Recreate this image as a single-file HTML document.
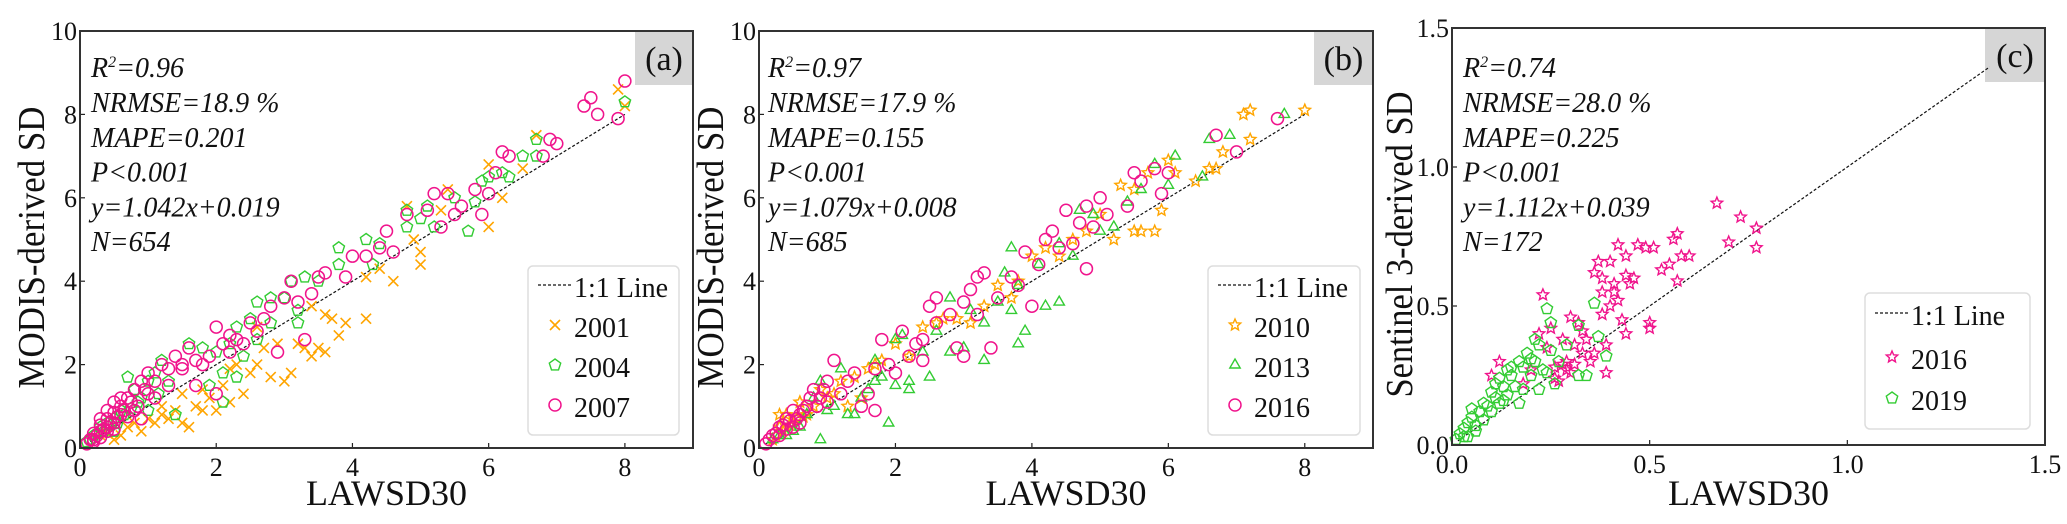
<!DOCTYPE html>
<html><head><meta charset="utf-8"><style>
html,body{margin:0;padding:0;background:#fff;}
svg, svg text{display:block;font-family:"Liberation Serif","DejaVu Serif","Times New Roman",serif;}
</style></head><body>
<svg id="fig" width="2067" height="524" viewBox="0 0 2067 524" xmlns="http://www.w3.org/2000/svg" font-family="Liberation Serif, DejaVu Serif, serif"></svg>
<script>
// ---------- data ----------
const a2001 = [[0.5,0.2],[0.7,0.5],[0.9,0.4],[1.1,0.6],[1.2,0.8],[1.4,0.9],[1.5,0.6],[1.6,0.5],[1.5,1.3],[1.7,1.0],[1.8,0.9],[1.9,1.2],[2.0,0.9],[2.1,1.5],[2.2,1.9],[2.3,2.0],[2.4,1.3],[2.5,1.8],[2.6,2.0],[2.7,2.4],[2.8,1.7],[3.0,1.6],[3.1,1.8],[3.2,2.5],[3.3,2.4],[3.4,2.2],[3.5,2.4],[3.6,2.3],[3.7,3.1],[3.6,3.2],[3.9,3.0],[3.8,2.7],[4.2,3.1],[3.4,3.4],[4.2,4.1],[4.4,4.3],[4.6,4.0],[4.8,5.8],[4.9,5.0],[5.0,4.7],[5.0,4.4],[5.4,6.2],[5.3,5.7],[6.0,5.3],[6.0,6.8],[6.2,6.0],[6.5,6.7],[6.7,7.5],[7.9,8.6],[8.0,8.2],[0.3,0.3],[0.4,0.35],[2.2,1.1],[2.9,2.5],[1.3,0.7],[2.6,2.9],[0.6,0.3],[0.8,0.6],[1.0,0.7],[1.2,1.0],[1.8,1.4]];
const a2004 = [[0.1,0.15],[0.2,0.3],[0.3,0.5],[0.5,0.7],[0.6,0.9],[0.7,1.7],[0.8,1.4],[0.9,1.2],[1.0,1.6],[1.1,1.8],[1.2,2.1],[1.3,1.6],[1.4,0.8],[1.6,2.5],[1.8,2.4],[1.9,1.5],[2.0,2.3],[2.1,1.8],[2.1,1.1],[2.2,2.5],[2.3,1.7],[2.3,2.9],[2.4,2.2],[2.5,3.1],[2.6,2.6],[2.6,3.5],[2.8,3.6],[2.8,3.0],[3.0,3.6],[3.1,4.0],[3.2,3.0],[3.2,3.3],[3.3,4.1],[3.5,4.0],[3.8,4.4],[3.8,4.8],[4.2,5.0],[4.3,4.4],[4.4,4.9],[4.8,5.3],[4.8,5.7],[5.0,5.5],[5.1,5.8],[5.2,5.3],[5.5,6.0],[5.7,5.2],[5.8,5.9],[5.9,6.4],[6.0,6.5],[6.2,6.6],[6.3,6.5],[6.5,7.0],[6.7,7.4],[6.7,7.0],[8.0,8.3],[1.0,0.9],[0.5,0.4],[0.15,0.2],[0.25,0.35],[0.35,0.4],[0.45,0.55],[0.55,0.6],[0.65,0.8],[0.75,0.95],[0.85,1.1],[1.15,1.3],[0.4,0.6]];
const a2007 = [[0.1,0.1],[0.2,0.2],[0.3,0.4],[0.3,0.7],[0.4,0.5],[0.4,0.9],[0.5,0.6],[0.5,1.1],[0.6,0.8],[0.6,1.0],[0.7,1.2],[0.8,0.9],[0.8,1.4],[0.9,1.6],[0.9,0.7],[1.0,1.3],[1.0,1.8],[1.1,1.6],[1.2,2.0],[1.3,1.5],[1.4,2.2],[1.5,1.9],[1.6,2.4],[1.7,1.5],[1.8,2.0],[1.9,2.2],[2.0,2.9],[2.0,1.3],[2.1,2.5],[2.2,2.7],[2.4,2.5],[2.5,3.0],[2.6,2.8],[2.7,3.1],[2.8,3.4],[2.9,2.3],[3.0,3.6],[3.1,4.0],[3.2,3.5],[3.3,2.6],[3.4,3.7],[3.5,4.1],[3.6,4.2],[3.9,4.1],[4.0,4.6],[4.2,4.6],[4.4,4.8],[4.5,5.2],[4.6,4.7],[4.8,5.6],[5.1,5.7],[5.2,6.1],[5.3,5.3],[5.4,6.1],[5.5,5.6],[5.6,5.8],[5.8,6.2],[5.9,5.6],[6.0,6.1],[6.1,6.6],[6.2,7.1],[6.3,7.0],[6.8,7.0],[6.9,7.4],[7.0,7.3],[7.4,8.2],[7.5,8.4],[7.6,8.0],[7.9,7.9],[8.0,8.8],[0.15,0.2],[0.2,0.35],[0.25,0.3],[0.3,0.55],[0.35,0.45],[0.4,0.7],[0.45,0.6],[0.5,0.85],[0.55,0.75],[0.6,1.2],[0.65,0.9],[0.7,0.75],[0.75,1.1],[0.85,1.0],[0.95,1.4],[0.3,0.25],[0.2,0.15],[0.4,0.4],[0.5,0.45],[1.1,1.2],[1.3,1.9],[1.5,2.0],[1.7,2.1],[2.3,2.6],[2.2,2.3]];
const b2010 = [[0.2,0.2],[0.3,0.5],[0.4,0.8],[0.5,0.6],[0.6,1.1],[0.7,0.8],[0.9,1.4],[1.0,1.2],[1.2,1.6],[1.3,1.0],[1.5,1.2],[1.6,1.9],[1.8,2.1],[2.0,2.5],[2.2,2.2],[2.4,2.9],[2.6,3.0],[2.7,3.1],[2.9,3.1],[3.1,3.0],[3.3,3.4],[3.5,3.9],[3.7,3.6],[3.8,4.0],[4.0,4.6],[4.2,4.8],[4.4,4.6],[4.6,5.0],[4.8,5.2],[5.0,5.6],[5.2,5.0],[5.3,6.3],[5.5,5.2],[5.5,6.2],[5.6,5.2],[5.7,6.6],[5.8,5.2],[5.9,5.7],[6.0,6.9],[6.1,6.6],[6.4,6.4],[6.6,6.7],[6.7,6.7],[6.8,7.1],[7.1,8.0],[7.2,7.4],[7.2,8.1],[8.0,8.1],[0.25,0.3],[0.35,0.4],[0.45,0.55],[0.55,0.7],[0.65,0.75],[0.8,1.0],[1.1,1.3],[0.3,0.8],[0.6,1.1],[1.4,1.7],[1.7,2.0]];
const b2013 = [[0.2,0.2],[0.3,0.3],[0.5,0.4],[0.7,0.8],[0.8,1.2],[0.9,0.2],[0.9,1.6],[1.0,0.9],[1.2,1.9],[1.3,0.8],[1.4,0.8],[1.5,1.2],[1.7,1.6],[1.7,2.1],[1.8,1.7],[1.9,0.6],[2.0,1.5],[2.0,2.6],[2.1,2.7],[2.2,1.6],[2.2,1.4],[2.4,2.3],[2.5,1.7],[2.6,2.8],[2.8,2.3],[2.8,3.6],[3.0,2.4],[3.1,3.3],[3.3,2.1],[3.3,3.0],[3.5,3.5],[3.6,4.2],[3.7,3.3],[3.7,4.8],[3.8,2.5],[3.8,3.9],[3.9,2.8],[4.1,4.4],[4.2,3.4],[4.4,3.5],[4.4,4.9],[4.6,4.6],[4.7,5.7],[4.9,5.6],[5.0,5.2],[5.2,5.3],[5.4,5.9],[5.6,6.2],[5.8,6.8],[6.0,6.3],[6.1,7.0],[6.5,6.5],[6.6,7.4],[6.9,7.5],[7.7,8.0],[0.4,0.3],[0.6,0.5],[1.1,1.0],[1.6,1.4]];
const b2016 = [[0.1,0.1],[0.2,0.3],[0.3,0.5],[0.4,0.7],[0.5,0.5],[0.5,0.9],[0.6,0.8],[0.7,1.0],[0.8,1.4],[0.9,1.2],[1.0,1.6],[1.1,2.1],[1.2,1.3],[1.4,1.8],[1.5,1.0],[1.6,1.3],[1.7,0.9],[1.8,2.6],[1.9,2.0],[2.0,1.8],[2.1,2.8],[2.2,2.2],[2.4,2.1],[2.4,2.6],[2.5,3.4],[2.6,3.0],[2.6,3.6],[2.8,3.2],[2.9,2.4],[3.0,3.5],[3.0,2.2],[3.1,3.8],[3.2,4.1],[3.2,3.2],[3.3,4.2],[3.4,2.4],[3.5,3.6],[3.7,4.1],[3.8,3.9],[3.9,4.7],[4.0,3.4],[4.1,4.4],[4.2,5.0],[4.3,5.2],[4.4,4.8],[4.5,5.7],[4.6,4.9],[4.7,5.4],[4.8,4.3],[4.8,5.8],[4.9,5.3],[5.0,6.0],[5.1,5.6],[5.4,5.8],[5.5,6.6],[5.6,6.4],[5.8,6.7],[5.9,6.1],[6.0,6.6],[6.7,7.5],[7.0,7.1],[7.6,7.9],[0.15,0.2],[0.25,0.35],[0.3,0.3],[0.35,0.55],[0.4,0.45],[0.45,0.65],[0.55,0.7],[0.6,0.6],[0.65,0.9],[0.75,1.2],[0.85,1.0],[0.95,1.4],[1.0,1.1],[1.3,1.6],[1.7,1.9],[2.3,2.5]];
const c2016 = [[0.1,0.25],[0.12,0.3],[0.18,0.22],[0.2,0.27],[0.22,0.4],[0.23,0.54],[0.24,0.35],[0.25,0.42],[0.26,0.28],[0.27,0.23],[0.28,0.38],[0.29,0.3],[0.3,0.26],[0.31,0.36],[0.3,0.46],[0.32,0.44],[0.33,0.41],[0.34,0.38],[0.35,0.3],[0.36,0.33],[0.36,0.62],[0.37,0.66],[0.38,0.55],[0.38,0.47],[0.39,0.36],[0.39,0.26],[0.4,0.5],[0.4,0.66],[0.41,0.58],[0.42,0.72],[0.42,0.52],[0.43,0.45],[0.44,0.68],[0.44,0.61],[0.45,0.58],[0.46,0.6],[0.47,0.72],[0.49,0.71],[0.5,0.42],[0.5,0.44],[0.51,0.71],[0.53,0.63],[0.55,0.65],[0.56,0.74],[0.57,0.59],[0.57,0.76],[0.58,0.68],[0.6,0.68],[0.67,0.87],[0.7,0.73],[0.73,0.82],[0.77,0.71],[0.77,0.78],[0.44,0.4],[0.33,0.33],[0.28,0.29],[0.26,0.24],[0.29,0.27],[0.31,0.29],[0.38,0.6],[0.41,0.55]];
const c2019 = [[0.01,0.02],[0.02,0.04],[0.03,0.06],[0.04,0.08],[0.04,0.03],[0.05,0.1],[0.06,0.07],[0.07,0.12],[0.08,0.09],[0.09,0.14],[0.1,0.19],[0.1,0.12],[0.11,0.17],[0.12,0.24],[0.12,0.15],[0.13,0.21],[0.14,0.27],[0.14,0.18],[0.15,0.25],[0.16,0.21],[0.17,0.3],[0.17,0.15],[0.18,0.28],[0.19,0.33],[0.2,0.25],[0.2,0.31],[0.21,0.38],[0.22,0.36],[0.22,0.2],[0.23,0.27],[0.24,0.49],[0.25,0.44],[0.25,0.34],[0.26,0.22],[0.27,0.3],[0.29,0.36],[0.32,0.25],[0.32,0.43],[0.34,0.25],[0.36,0.51],[0.37,0.39],[0.39,0.32],[0.03,0.03],[0.06,0.05],[0.05,0.13],[0.08,0.15],[0.11,0.22],[0.13,0.16],[0.15,0.28],[0.18,0.2],[0.21,0.3],[0.24,0.26]];
const ticksAB = [0,2,4,6,8];
const yTicksAB = [0,2,4,6,8,10];
const ticksC = [0,0.5,1.0,1.5];
const statsA = ["NRMSE=18.9 %","MAPE=0.201","P<0.001","y=1.042x+0.019","N=654"];
const statsB = ["NRMSE=17.9 %","MAPE=0.155","P<0.001","y=1.079x+0.008","N=685"];
const statsC = ["NRMSE=28.0 %","MAPE=0.225","P<0.001","y=1.112x+0.039","N=172"];

const NS = "http://www.w3.org/2000/svg";
const FF = "Liberation Serif, DejaVu Serif, serif";
const svg = document.getElementById('fig');
const OR = "#ffa500", GR = "#33cc33", MG = "#f0148c";
function mk(tag, attrs, parent){ const e=document.createElementNS(NS,tag); for(const k in attrs) e.setAttribute(k,attrs[k]); if(tag==='text') e.setAttribute('font-family',FF); (parent||svg).appendChild(e); return e; }

function marker(g, type, cx, cy, color, s){
  s = s||6; let e;
  if(type==='circle'){ e=mk('circle',{cx:cx,cy:cy,r:s,fill:'none',stroke:color,'stroke-width':1.5},g); }
  else if(type==='x'){ e=mk('path',{d:`M${cx-s} ${cy-s}L${cx+s} ${cy+s}M${cx-s} ${cy+s}L${cx+s} ${cy-s}`,stroke:color,'stroke-width':1.6,fill:'none'},g); }
  else {
    let n = type==='tri'?3:(type==='pent'?5:10); let pts=[];
    for(let i=0;i<n;i++){ const ang=-Math.PI/2+i*2*Math.PI/n; const r = type==='star'?(i%2?s*0.45:s):s; pts.push((cx+r*Math.cos(ang)).toFixed(1)+','+(cy+r*Math.sin(ang)).toFixed(1)); }
    e=mk('polygon',{points:pts.join(' '),fill:'none',stroke:color,'stroke-width':1.4},g);
  }
  return e;
}

function panel(cfg){
  const {x0,x1,y0,y1,xmax,ymax,xt,yt,fmt,series,stats,r2,letter,ylab,ylabX,ylabLen,legend,lineMax,name} = cfg;
  const sx = v => x0 + v/xmax*(x1-x0);
  const sy = v => y1 - v/ymax*(y1-y0);
  const g = mk('g',{});
  
  
  const lb = mk('rect',{x:cfg.lbx,y:y0,width:x1-cfg.lbx,height:cfg.lbh,fill:'#d6d6d6'},g);
  
  
  const lt = mk('text',{x:(cfg.lbx+x1)/2,y:y0+cfg.lbh*0.72,'font-size':34,'text-anchor':'middle',fill:'#111'},g);
  lt.textContent = letter;
  
  
  xt.forEach(v=>{
    mk('line',{x1:sx(v),x2:sx(v),y1:y1,y2:y1-5,stroke:'#222','stroke-width':1.2},g);
    const t = mk('text',{x:sx(v),y:y1+28,'font-size':26,'text-anchor':'middle',fill:'#111'},g);
    t.textContent = fmt(v);
    
    
  });
  yt.forEach(v=>{
    mk('line',{x1:x0,x2:x0+5,y1:sy(v),y2:sy(v),stroke:'#222','stroke-width':1.2},g);
    const t = mk('text',{x:x0-3,y:sy(v)+9,'font-size':26,'text-anchor':'end',fill:'#111'},g);
    t.textContent = fmt(v);
    
    
  });
  const l = mk('line',{x1:sx(xmax*0.01),y1:sy(xmax*0.01),x2:sx(lineMax),y2:sy(lineMax),stroke:'#111','stroke-width':1.2,'stroke-dasharray':'3,2'},g);
  
  
  series.forEach(s=>{
    const sg = mk('g',{},g);
    
    
    s.data.forEach(p=>{
      const m = marker(sg, s.type, sx(p[0]), sy(p[1]), s.color, s.size);
      
      
    });
  });
  mk('rect',{x:x0,y:y0,width:x1-x0,height:y1-y0,fill:'none',stroke:'#333','stroke-width':2},g);
  const st = mk('text',{x:cfg.sx0,y:77,'font-size':28,'font-style':'italic',fill:'#111'},g);
  
  
  const t1 = mk('tspan',{},st); t1.textContent='R';
  const t2 = mk('tspan',{dy:-10,'font-size':16},st); t2.textContent='2';
  const t3 = mk('tspan',{dy:10},st); t3.textContent='='+r2;
  stats.forEach((s,i)=>{
    const t = mk('text',{x:cfg.sx0,y:112+i*34.8,'font-size':28,'font-style':'italic',fill:'#111'},g);
    t.textContent = s;
    
    
  });
  const xl = mk('text',{x:(x0+x1)/2,y:505,'font-size':36,'text-anchor':'middle',fill:'#111'},g);
  xl.textContent='LAWSD30';
  
  
  const yc = (y0+y1)/2+8;
  const yl = mk('text',{x:0,y:0,'font-size':38,'text-anchor':'middle',fill:'#111',textLength:ylabLen,lengthAdjust:'spacingAndGlyphs',transform:`translate(${ylabX},${yc}) rotate(-90)`},g);
  yl.textContent=ylab;
  
  
  const L = legend;
  const lg = mk('g',{},g);
  
  
  mk('rect',{x:L.x,y:L.y,width:L.w,height:L.h,rx:5,fill:'#fff',stroke:'#ddd','stroke-width':1.5},lg);
  mk('line',{x1:L.x+10,x2:L.x+43,y1:L.ys[0]-3,y2:L.ys[0]-3,stroke:'#111','stroke-width':1.3,'stroke-dasharray':'3,2'},lg);
  const le = mk('text',{x:L.x+46,y:L.ys[0]+9,'font-size':28,fill:'#111'},lg);
  le.textContent='1:1 Line';
  
  
  series.forEach((s,i)=>{
    marker(lg, s.type, L.x+27, L.ys[i+1]-3, s.color, s.size);
    const t = mk('text',{x:L.x+46,y:L.ys[i+1]+9,'font-size':28,fill:'#111'},lg);
    t.textContent=s.label;
    
    
  });
}

panel({name:'panel-a',x0:80,x1:693,y0:31,y1:448,xmax:9,ymax:10,xt:ticksAB,yt:yTicksAB,fmt:v=>String(v),
  series:[{label:'2001',type:'x',color:OR,data:a2001,size:5},{label:'2004',type:'pent',color:GR,data:a2004,size:6},{label:'2007',type:'circle',color:MG,data:a2007,size:6}],
  stats:statsA,r2:'0.96',letter:'(a)',ylab:'MODIS-derived SD',ylabX:44,ylabLen:282,lbx:635,lbh:54,sx0:91,lineMax:8,
  legend:{x:528,y:266,w:151,h:169,ys:[288,328,368,408]}});
panel({name:'panel-b',x0:759,x1:1373,y0:31,y1:448,xmax:9,ymax:10,xt:ticksAB,yt:yTicksAB,fmt:v=>String(v),
  series:[{label:'2010',type:'star',color:OR,data:b2010,size:6},{label:'2013',type:'tri',color:GR,data:b2013,size:6},{label:'2016',type:'circle',color:MG,data:b2016,size:6}],
  stats:statsB,r2:'0.97',letter:'(b)',ylab:'MODIS-derived SD',ylabX:723,ylabLen:282,lbx:1314,lbh:54,sx0:768,lineMax:8,
  legend:{x:1208,y:266,w:152,h:169,ys:[288,328,368,408]}});
panel({name:'panel-c',x0:1452,x1:2045,y0:28,y1:445,xmax:1.5,ymax:1.5,xt:ticksC,yt:ticksC,fmt:v=>v.toFixed(1),
  series:[{label:'2016',type:'star',color:MG,data:c2016,size:6},{label:'2019',type:'pent',color:GR,data:c2019,size:6}],
  stats:statsC,r2:'0.74',letter:'(c)',ylab:'Sentinel 3-derived SD',ylabX:1412,ylabLen:306,lbx:1985,lbh:54,sx0:1463,lineMax:1.36,
  legend:{x:1865,y:293,w:165,h:136,ys:[316,360,401]}});
</script>
</body></html>
